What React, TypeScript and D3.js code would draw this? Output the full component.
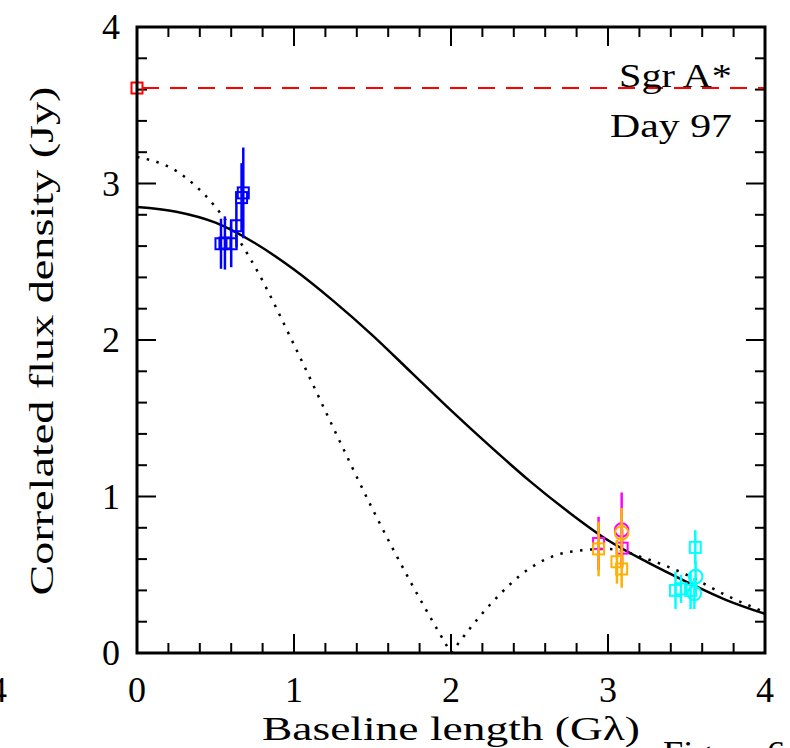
import React from "react";
import * as d3 from "d3";

// Model curves (x in Gλ, flux in Jy)
const curveX = [0, 0.25, 0.5, 0.75, 1.0, 1.25, 1.5, 1.75, 2.0, 2.25, 2.5, 2.75, 3.0, 3.25, 3.5, 3.75, 4.0];
const gaussFlux = [2.85, 2.82, 2.75, 2.62, 2.45, 2.25, 2.03, 1.79, 1.55, 1.32, 1.1, 0.9, 0.72, 0.58, 0.455, 0.34, 0.25];
const ringFlux = [3.17, 3.08, 2.85, 2.47, 1.97, 1.44, 0.92, 0.44, 0.0, 0.31, 0.54, 0.645, 0.665, 0.6, 0.5, 0.37, 0.26];

// Total flux (dashed red line)
const totalFlux = 3.61;

// Measurements: x, y, err, marker
const bluePts = [
  [0.535, 2.615, 0.16, "sq"],
  [0.56, 2.62, 0.17, "sq"],
  [0.6, 2.615, 0.15, "sq"],
  [0.633, 2.73, 0.14, "sq"],
  [0.666, 2.91, 0.22, "sq"],
  [0.677, 2.94, 0.29, "sq"],
];
const magentaPts = [
  [2.94, 0.7, 0.17, "sq"],
  [3.087, 0.786, 0.24, "ci"],
  [3.09, 0.67, 0.12, "sq"],
];
const orangePts = [
  [2.94, 0.665, 0.175, "sq"],
  [3.087, 0.767, 0.16, "ci"],
  [3.057, 0.583, 0.14, "sq"],
  [3.087, 0.537, 0.12, "sq"],
];
const cyanPts = [
  [3.43, 0.4, 0.12, "sq"],
  [3.465, 0.41, 0.09, "sq"],
  [3.526, 0.4, 0.12, "sq"],
  [3.556, 0.675, 0.11, "sq"],
  [3.558, 0.488, 0.1, "ci"],
  [3.55, 0.381, 0.1, "ci"],
];

const xTickLabels = ["0", "1", "2", "3", "4"];
const yTickLabels = ["0", "1", "2", "3", "4"];

const W = 790;
const H = 748;
const FONT = "'Liberation Serif', 'Times New Roman', serif";

export default function App() {
  const x = d3.scaleLinear().domain([0, 4]).range([137, 765]);
  const y = d3.scaleLinear().domain([0, 4]).range([653, 27]);

  const line = d3
    .line<[number, number]>()
    .x((d) => x(d[0]))
    .y((d) => y(d[1]))
    .curve(d3.curveMonotoneX);

  const gaussPath = line(curveX.map((v, i) => [v, gaussFlux[i]] as [number, number])) || "";
  const ringA = curveX.map((v, i) => [v, ringFlux[i]] as [number, number]).filter((d) => d[0] <= 2);
  const ringB = curveX.map((v, i) => [v, ringFlux[i]] as [number, number]).filter((d) => d[0] >= 2);

  const minor = d3.range(0, 4.0001, 0.2);
  const [x0, x1] = x.range();
  const [y0, y1] = y.range();

  const renderSeries = (pts: any[], color: string) => (
    <g stroke={color} fill="none">
      {pts.map((p, i) => (
        <g key={i}>
          <line x1={x(p[0])} x2={x(p[0])} y1={y(p[1] - p[2])} y2={y(p[1] + p[2])} strokeWidth={2.5} />
          {p[3] === "sq" ? (
            <rect x={x(p[0]) - 5.5} y={y(p[1]) - 5.5} width={11} height={11} strokeWidth={2} />
          ) : (
            <circle cx={x(p[0])} cy={y(p[1])} r={6.8} strokeWidth={2} />
          )}
        </g>
      ))}
    </g>
  );

  return (
    <svg width={W} height={H} style={{ position: "absolute", left: 0, top: 0, background: "#fff" }}>
      <rect x={0} y={0} width={W} height={H} fill="#fff" />
      {/* ticks */}
      <g stroke="#000" strokeWidth={2}>
        {minor.map((t, i) => {
          const major = Math.abs(t - Math.round(t)) < 1e-6;
          const len = major ? 19 : 10;
          return (
            <g key={i}>
              <line x1={x(t)} x2={x(t)} y1={y0} y2={y0 - len} />
              <line x1={x(t)} x2={x(t)} y1={y1} y2={y1 + len} />
              <line x1={x0} x2={x0 + len} y1={y(t)} y2={y(t)} />
              <line x1={x1} x2={x1 - len} y1={y(t)} y2={y(t)} />
            </g>
          );
        })}
      </g>
      {/* total flux dashed line */}
      <line x1={x(0)} x2={x(4)} y1={y(totalFlux)} y2={y(totalFlux)} stroke="#ff0000" strokeWidth={2} strokeDasharray="17 11" strokeDashoffset={-5} />
      <rect x={x(0) - 5.5} y={y(totalFlux) - 5.5} width={11} height={11} fill="none" stroke="#ff0000" strokeWidth={2} />
      {/* model curves */}
      <path d={gaussPath} fill="none" stroke="#000" strokeWidth={2.5} />
      <path d={line(ringA) || ""} fill="none" stroke="#000" strokeWidth={2.5} strokeDasharray="2.5 7.5" />
      <path d={line(ringB) || ""} fill="none" stroke="#000" strokeWidth={2.5} strokeDasharray="2.5 7.5" />
      {/* data */}
      {renderSeries(bluePts, "#0000ff")}
      {renderSeries(magentaPts, "#ff00ff")}
      {renderSeries(orangePts, "#ffb000")}
      {renderSeries(cyanPts, "#00ffff")}
      {/* frame */}
      <rect x={x0} y={y1} width={x1 - x0} height={y0 - y1} fill="none" stroke="#000" strokeWidth={3} />
      {/* tick labels */}
      <g fontFamily={FONT} fontSize={36} fill="#000">
        {xTickLabels.map((s, i) => (
          <text key={"x" + i} x={x(+s)} y={702} textAnchor="middle">{s}</text>
        ))}
        {yTickLabels.map((s, i) => (
          <text key={"y" + i} x={120} y={y(+s) + 12} textAnchor="end">{s}</text>
        ))}
        <text x={7} y={702} textAnchor="end">4</text>
      </g>
      {/* axis titles */}
      <g fontFamily={FONT} fontSize={34} fill="#000">
        <text x={x(2)} y={740} textAnchor="middle" textLength={378} lengthAdjust="spacingAndGlyphs">Baseline length (Gλ)</text>
        <text transform={`translate(53,341) rotate(-90)`} textAnchor="middle" textLength={509} lengthAdjust="spacingAndGlyphs">Correlated flux density (Jy)</text>
        <text x={732} y={87} textAnchor="end" textLength={113} lengthAdjust="spacingAndGlyphs">Sgr A*</text>
        <text x={732} y={137} textAnchor="end" textLength={122} lengthAdjust="spacingAndGlyphs">Day 97</text>
        <text x={663} y={764} textLength={122} lengthAdjust="spacingAndGlyphs">Figure 6</text>
      </g>
    </svg>
  );
}
